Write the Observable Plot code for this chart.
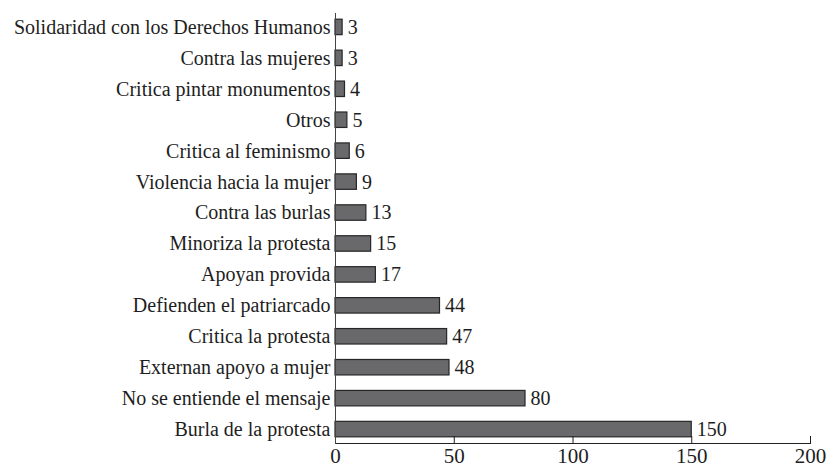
<!DOCTYPE html>
<html>
<head>
<meta charset="utf-8">
<script src="https://cdn.jsdelivr.net/npm/d3@7"></script>
<script src="https://cdn.jsdelivr.net/npm/@observablehq/plot@0.6"></script>
<style>
  html, body { margin: 0; padding: 0; background: #fff; }
</style>
</head>
<body>
<div id="chart"></div>
<script>
const categories = [
  "Solidaridad con los Derechos Humanos",
  "Contra las mujeres",
  "Critica pintar monumentos",
  "Otros",
  "Critica al feminismo",
  "Violencia hacia la mujer",
  "Contra las burlas",
  "Minoriza la protesta",
  "Apoyan provida",
  "Defienden el patriarcado",
  "Critica la protesta",
  "Externan apoyo a mujer",
  "No se entiende el mensaje",
  "Burla de la protesta"
];
const values = [3, 3, 4, 5, 6, 9, 13, 15, 17, 44, 47, 48, 80, 150];
const xTicks = [0, 50, 100, 150, 200];

const data = categories.map((c, i) => ({category: c, value: values[i]}));
const FONT = "Liberation Serif";

const chart = Plot.plot({
  width: 837,
  height: 469,
  marginLeft: 335,
  marginRight: 27,
  marginTop: 13,
  marginBottom: 26,
  style: {fontFamily: FONT, fontSize: "20px", color: "#1e1e1e", background: "#fff"},
  x: {domain: [0, 200], ticks: xTicks},
  y: {domain: categories, paddingInner: 0.5, paddingOuter: 0.2, round: false},
  marks: [
    Plot.barX(data, {x: "value", y: "category", fill: "#69696c", stroke: "#262626", strokeWidth: 1.2}),
    Plot.text(data, {x: "value", y: "category", text: d => String(d.value), textAnchor: "start", dx: 5, fill: "#1e1e1e", fontSize: 20, fontFamily: FONT}),
    Plot.axisY({tickSize: 0, tickPadding: 5, label: null, fontSize: 20, fontFamily: FONT}),
    Plot.axisX({ticks: xTicks, tickSize: -7, tickPadding: 12, label: null, fontSize: 21, fontFamily: FONT}),
    Plot.frame({anchor: "bottom", stroke: "#222"}),
    Plot.frame({anchor: "left", stroke: "#444"})
  ]
});
document.getElementById("chart").appendChild(chart);
</script>
</body>
</html>
